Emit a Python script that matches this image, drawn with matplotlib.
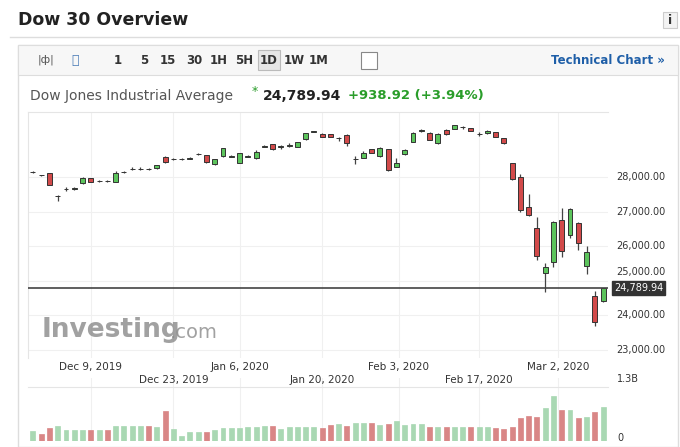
import matplotlib
matplotlib.use("Agg")
import matplotlib.pyplot as plt
from matplotlib.patches import Rectangle
import numpy as np

# ---- data (estimated) ----
opens = [28135,28050,28105,27450,27645,27660,27820,27960,27885,27880,27865,28135,28220,28225,28225,28250,28590,28510,28510,28520,28665,28635,28375,28605,28590,28415,28590,28540,28880,28955,28875,28905,28875,29090,29310,29240,29240,29120,29215,28510,28560,28800,28615,28800,28300,28665,29020,29340,29280,28975,29360,29385,29435,29410,29240,29260,29290,29120,28395,27990,27125,26515,25215,25535,26760,26325,26660,25435,24560,24425]
closes = [28140,28045,27770,27455,27650,27665,27980,27865,27890,27875,28105,28140,28225,28230,28220,28345,28425,28515,28515,28560,28670,28425,28510,28830,28595,28685,28595,28730,28910,28800,28880,28910,29000,29260,29315,29165,29165,29125,28975,28515,28700,28700,28830,28200,28415,28780,29280,29345,29070,29240,29235,29500,29440,29340,29245,29340,29165,28975,27930,27045,26900,25725,25390,26690,25870,27075,26080,25825,23800,24789.94]
highs = [28165,28070,28115,27480,27700,27700,27990,27975,27910,27905,28160,28165,28290,28280,28260,28355,28600,28540,28540,28575,28700,28645,28520,28850,28640,28700,28640,28780,28930,28965,28920,28980,29010,29275,29340,29260,29255,29160,29240,28600,28740,28820,28860,28810,28560,28800,29290,29375,29290,29260,29375,29510,29460,29430,29290,29360,29300,29140,28400,28100,27500,26850,25500,26720,27090,27110,26700,26020,24700,24790]
lows = [28120,28030,27760,27300,27600,27620,27810,27850,27860,27860,27860,28120,28200,28210,28200,28240,28410,28490,28490,28510,28640,28410,28360,28590,28570,28400,28570,28530,28860,28790,28820,28880,28860,29080,29290,29150,29150,29030,28900,28380,28540,28690,28570,28170,28280,28650,29010,29300,29060,28960,29220,29380,29380,29330,29180,29250,29150,28940,27920,27000,26880,25600,24680,25400,25700,26250,25900,25200,23700,24400]
vol_tops = [150,158,143,137,147,147,147,147,147,147,137,137,137,137,137,140,90,145,165,153,153,153,148,142,142,142,140,140,137,137,145,140,138,140,140,143,132,130,135,126,128,128,132,130,122,132,130,130,140,140,140,138,138,140,140,140,143,145,140,113,107,110,83,47,87,87,112,108,93,80]
volumes = [(180 - t) / 3 / 62 * 1.3e9 for t in vol_tops]
tick_pos = [7, 17, 25, 35, 44.3, 54, 63.6]
tick_labels = ["Dec 9, 2019", "Dec 23, 2019", "Jan 6, 2020", "Jan 20, 2020", "Feb 3, 2020", "Feb 17, 2020", "Mar 2, 2020"]
y_ticks = [23000, 24000, 25000, 26000, 27000, 28000]
last_price = 24789.94

W, H = 680, 447
fig = plt.figure(figsize=(6.8, 4.47), dpi=100)

def fx(x): return x / W
def fy(y): return 1 - y / H

# header
fig.text(fx(18), fy(20), "Dow 30 Overview", fontsize=12.5, fontweight="bold", color="#222", va="center")
fig.add_artist(plt.Line2D([fx(10), fx(680)], [fy(37), fy(37)], color="#ddd", lw=1))
fig.add_artist(Rectangle((fx(663), fy(28)), 14/W, 16/H, fc="#f3f3f3", ec="#ccc", lw=0.8))
fig.text(fx(670), fy(20), "i", fontsize=9, fontweight="bold", color="#333", ha="center", va="center")
fig.add_artist(Rectangle((fx(18), fy(447)), 660/W, 402/H, fc="none", ec="#ddd", lw=1))
fig.add_artist(Rectangle((fx(18), fy(75)), 660/W, 30/H, fc="#f7f7f7", ec="#ddd", lw=0.8))
fig.text(fx(46), fy(60), "|ф|", fontsize=8, color="#555", ha="center", va="center")
fig.text(fx(75), fy(60), "〰", fontsize=9, color="#4a7bb7", ha="center", va="center")
for lab, xx in zip(["1", "5", "15", "30", "1H", "5H", "1D", "1W", "1M"], [118, 144, 168, 194, 219, 244, 269, 294, 319]):
    if lab == "1D":
        fig.add_artist(Rectangle((fx(258), fy(70)), 22/W, 20/H, fc="#e6e6e6", ec="#bbb", lw=0.8))
    fig.text(fx(xx), fy(60), lab, fontsize=8.5, fontweight="bold", color="#333", ha="center", va="center")
fig.add_artist(Rectangle((fx(361), fy(69)), 16/W, 17/H, fc="#fff", ec="#888", lw=0.8))
fig.text(fx(665), fy(60), "Technical Chart »", fontsize=8.5, fontweight="bold", color="#1f5fa8", ha="right", va="center")
fig.text(fx(30), fy(96), "Dow Jones Industrial Average", fontsize=10, color="#555", va="center")
fig.text(fx(252), fy(92), "*", fontsize=9, color="#2a9d2a", va="center")
fig.text(fx(263), fy(96), "24,789.94", fontsize=10, fontweight="bold", color="#222", va="center")
fig.text(fx(348), fy(96), "+938.92 (+3.94%)", fontsize=9.5, fontweight="bold", color="#2a9d2a", va="center")

x = np.arange(len(closes))
ax = fig.add_axes([fx(28), fy(358), (608-28)/W, (358-112)/H])
ax.set_xlim(-0.6, 69.6)
v_per_px = 1000 / 34.6
ax.set_ylim(28000 - (358-177) * v_per_px, 28000 + (177-112) * v_per_px)
for p in tick_pos:
    ax.axvline(p, color="#f0f0f0", lw=0.8, zorder=0)
for t in y_ticks:
    ax.axhline(t, color="#f0f0f0", lw=0.8, zorder=0)
for i in x:
    o, c, h, l = opens[i], closes[i], highs[i], lows[i]
    up = c >= o
    fc = "#5cc45c" if up else "#d24a4a"
    ax.vlines(i, l, h, color="#444", lw=0.9, zorder=2)
    ax.add_patch(Rectangle((i - 0.3, min(o, c)), 0.6, max(abs(c - o), 12), fc=fc, ec="#333", lw=0.7, zorder=3))
ax.axhline(last_price, color="#444", lw=1.2, zorder=4)
for s in ax.spines.values():
    s.set_visible(False)
ax.spines["top"].set_visible(True); ax.spines["top"].set_color("#e5e5e5")
ax.spines["left"].set_visible(True); ax.spines["left"].set_color("#e5e5e5")
ax.set_xticks([]); ax.set_yticks([])
for t in y_ticks:
    if t == 25000:
        ax.text(70.6, t + 120, f"{t:,.2f}", fontsize=7, color="#333", va="bottom", ha="left", clip_on=False)
    else:
        ax.text(70.6, t, f"{t:,.2f}", fontsize=7, color="#333", va="center", ha="left", clip_on=False)
ax.text(70.3, last_price, f"{last_price:,.2f}", fontsize=7, color="white", va="center", ha="left", clip_on=False,
        bbox=dict(boxstyle="square,pad=0.2", fc="#333", ec="#333"), zorder=5)
fig.text(fx(42), fy(330), "Investing", fontsize=19, fontweight="bold", color="#8a8a8a", va="center", alpha=0.8)
fig.text(fx(170), fy(332), ".com", fontsize=14, color="#8a8a8a", va="center", alpha=0.8)

for k, (p, lab) in enumerate(zip(tick_pos, tick_labels)):
    yy = 367 if k % 2 == 0 else 380
    xp = 28 + (p + 0.6) / 70.2 * 580
    fig.text(fx(xp), fy(yy), lab, fontsize=7.5, color="#333", ha="center", va="center")

axv = fig.add_axes([fx(28), fy(441), (608-28)/W, 63/H])
axv.set_xlim(-0.6, 69.6)
axv.set_ylim(0, 1.3e9)
vcol = ["#a9d8b3" if closes[i] >= opens[i] else "#d98686" for i in x]
axv.bar(x, volumes, width=0.6, color=vcol, edgecolor=vcol, lw=0.5)
for p in tick_pos:
    axv.axvline(p, color="#f0f0f0", lw=0.8, zorder=0)
for s in axv.spines.values():
    s.set_visible(False)
axv.set_xticks([]); axv.set_yticks([])
fig.text(fx(617), fy(379), "1.3B", fontsize=7, color="#333", va="center")
fig.text(fx(617), fy(438), "0", fontsize=7, color="#333", va="center")
fig.add_artist(plt.Line2D([fx(28), fx(608)], [fy(387), fy(387)], color="#e5e5e5", lw=0.8))

fig.savefig("out.png", dpi=100)
